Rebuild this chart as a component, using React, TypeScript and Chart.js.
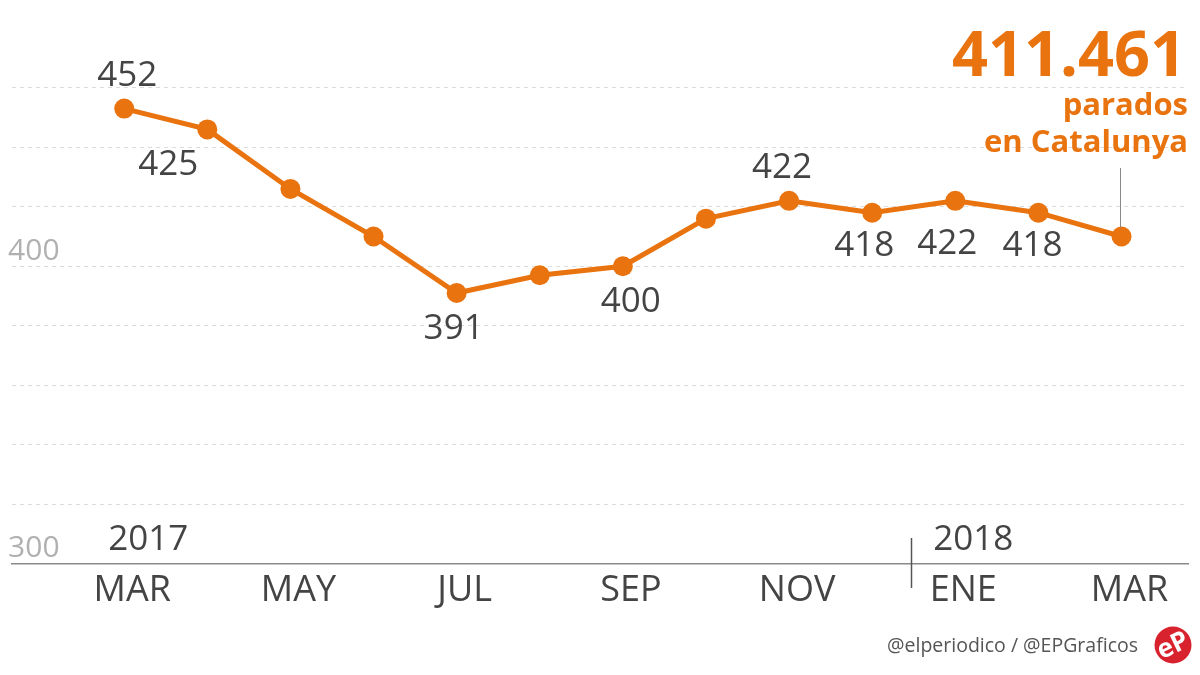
import React, { useEffect, useRef } from "react";
import { Chart, registerables } from "chart.js";

Chart.register(...registerables);

// ---- data ----
const months = ["MAR", "ABR", "MAY", "JUN", "JUL", "AGO", "SEP", "OCT", "NOV", "DIC", "ENE", "FEB", "MAR"];
const paro = [453, 446, 426, 410, 391, 397, 400, 416, 422, 418, 422, 418, 410];
const pointLabels = ["452", "425", "", "", "391", "", "400", "", "422", "418", "422", "418", ""];
const xTickIndexes = [0, 2, 4, 6, 8, 10, 12];
const yTickValues = [300, 320, 340, 360, 380, 400, 420, 440, 460];
const yLabelValues = [300, 400];
const years = [
  { index: 0, text: "2017" },
  { index: 10, text: "2018" },
];
const totalText = "411.461";
const subtitleLines = ["parados", "en Catalunya"];
const sourceText = "@elperiodico / @EPGraficos";

const ORANGE = "#E9730E";
const FONT = "'Open Sans', 'DejaVu Sans', sans-serif";

const overlayPlugin = {
  id: "overlay",
  afterDatasetsDraw(chart: any) {
    const ctx = chart.ctx as CanvasRenderingContext2D;
    const xs = chart.scales.x;
    const meta = chart.getDatasetMeta(0);
    const above = new Set([0, 8]);
    const dx: Record<number, number> = { 1: -39, 4: -3, 6: 8, 8: -7, 9: -8, 10: -8, 11: -6 };
    const dyBelow: Record<number, number> = { 10: 43, 9: 33, 11: 33 };
    ctx.save();
    ctx.font = `35px ${FONT}`;
    ctx.fillStyle = "#444";
    ctx.textAlign = "center";
    ctx.textBaseline = "middle";
    pointLabels.forEach((t, i) => {
      if (!t) return;
      const p = meta.data[i];
      const ox = dx[i] ?? 3;
      const oy = above.has(i) ? -33 : dyBelow[i] ?? 36;
      ctx.fillText(t, p.x + ox, p.y + oy);
    });

    // year labels
    ctx.font = `35px ${FONT}`;
    ctx.fillStyle = "#444";
    ctx.textAlign = "left";
    years.forEach((y) => {
      const px = xs.getPixelForValue(y.index);
      ctx.fillText(y.text, px + (y.index === 0 ? -16 : -22), 540);
    });

    // year divider
    const divX = Math.round(xs.getPixelForValue(9.5)) - 2.5;
    ctx.strokeStyle = "#555";
    ctx.lineWidth = 1.5;
    ctx.beginPath();
    ctx.moveTo(divX, 538);
    ctx.lineTo(divX, 588);
    ctx.stroke();

    // leader line from total to last point
    const last = meta.data[meta.data.length - 1];
    ctx.strokeStyle = "#888";
    ctx.lineWidth = 1;
    ctx.beginPath();
    ctx.moveTo(Math.round(last.x) - 1.5, 168);
    ctx.lineTo(Math.round(last.x) - 1.5, last.y - 9);
    ctx.stroke();

    // title block
    ctx.fillStyle = ORANGE;
    ctx.textAlign = "right";
    ctx.textBaseline = "alphabetic";
    ctx.font = `bold 63px ${FONT}`;
    ctx.fillText(totalText, 1186, 76);
    ctx.font = `bold 31px ${FONT}`;
    ctx.fillText(subtitleLines[0], 1188, 115);
    ctx.fillText(subtitleLines[1], 1188, 152);

    // footer
    ctx.fillStyle = "#555";
    ctx.font = `19.5px ${FONT}`;
    ctx.textAlign = "right";
    ctx.textBaseline = "middle";
    ctx.fillText(sourceText, 1138, 646);

    // logo
    ctx.fillStyle = "#D8232E";
    ctx.beginPath();
    ctx.arc(1173, 645, 18.5, 0, Math.PI * 2);
    ctx.fill();
    ctx.translate(1173, 646);
    ctx.rotate(-0.45);
    ctx.fillStyle = "#fff";
    ctx.font = `bold 26px ${FONT}`;
    ctx.textAlign = "center";
    ctx.fillText("eP", 0, 0);
    ctx.restore();
  },
};

export default function App() {
  const ref = useRef<HTMLCanvasElement | null>(null);
  useEffect(() => {
    if (!ref.current) return;
    const chart = new Chart(ref.current, {
      type: "line",
      data: {
        datasets: [
          {
            data: paro.map((v, i) => ({ x: i, y: v })),
            borderColor: ORANGE,
            backgroundColor: ORANGE,
            borderWidth: 5,
            pointRadius: 10,
            pointBackgroundColor: ORANGE,
            pointBorderWidth: 0,
            tension: 0,
          },
        ],
      },
      options: {
        responsive: false,
        animation: false,
        events: [],
        layout: { padding: { left: 12, right: 12, top: 58, bottom: 58 } },
        plugins: { legend: { display: false }, tooltip: { enabled: false } },
        scales: {
          x: {
            type: "linear",
            min: -1.35,
            max: 12.8,
            afterBuildTicks: (axis: any) => {
              axis.ticks = xTickIndexes.map((v) => ({ value: v }));
            },
            grid: { display: false, drawTicks: false },
            border: { display: true, color: "#8a8a8a", width: 1.5 },
            ticks: {
              padding: 5,
              labelOffset: 8,
              color: "#444",
              font: { family: FONT, size: 36 },
              maxRotation: 0,
              autoSkip: false,
              callback: (v: any) => months[Number(v)] ?? "",
            },
          },
          y: {
            min: 300,
            max: 470,
            afterBuildTicks: (axis: any) => {
              axis.ticks = yTickValues.map((v) => ({ value: v }));
            },
            grid: { color: "#dcdcdc", lineWidth: 1, drawTicks: false },
            border: { display: false, dash: [4, 4] },
            ticks: {
              mirror: true,
              padding: -1.3,
              labelOffset: -15,
              color: "#b0b0b0",
              font: { family: FONT, size: 30 },
              callback: (v: any) => (yLabelValues.includes(Number(v)) ? String(v) : ""),
            },
          },
        },
      },
      plugins: [overlayPlugin],
    } as any);
    return () => chart.destroy();
  }, []);
  return (
    <div style={{ position: "fixed", left: 0, top: 0, width: 1200, height: 675, background: "#fff" }}>
      <canvas ref={ref} width={1200} height={675} style={{ width: 1200, height: 675, display: "block" }} />
    </div>
  );
}
